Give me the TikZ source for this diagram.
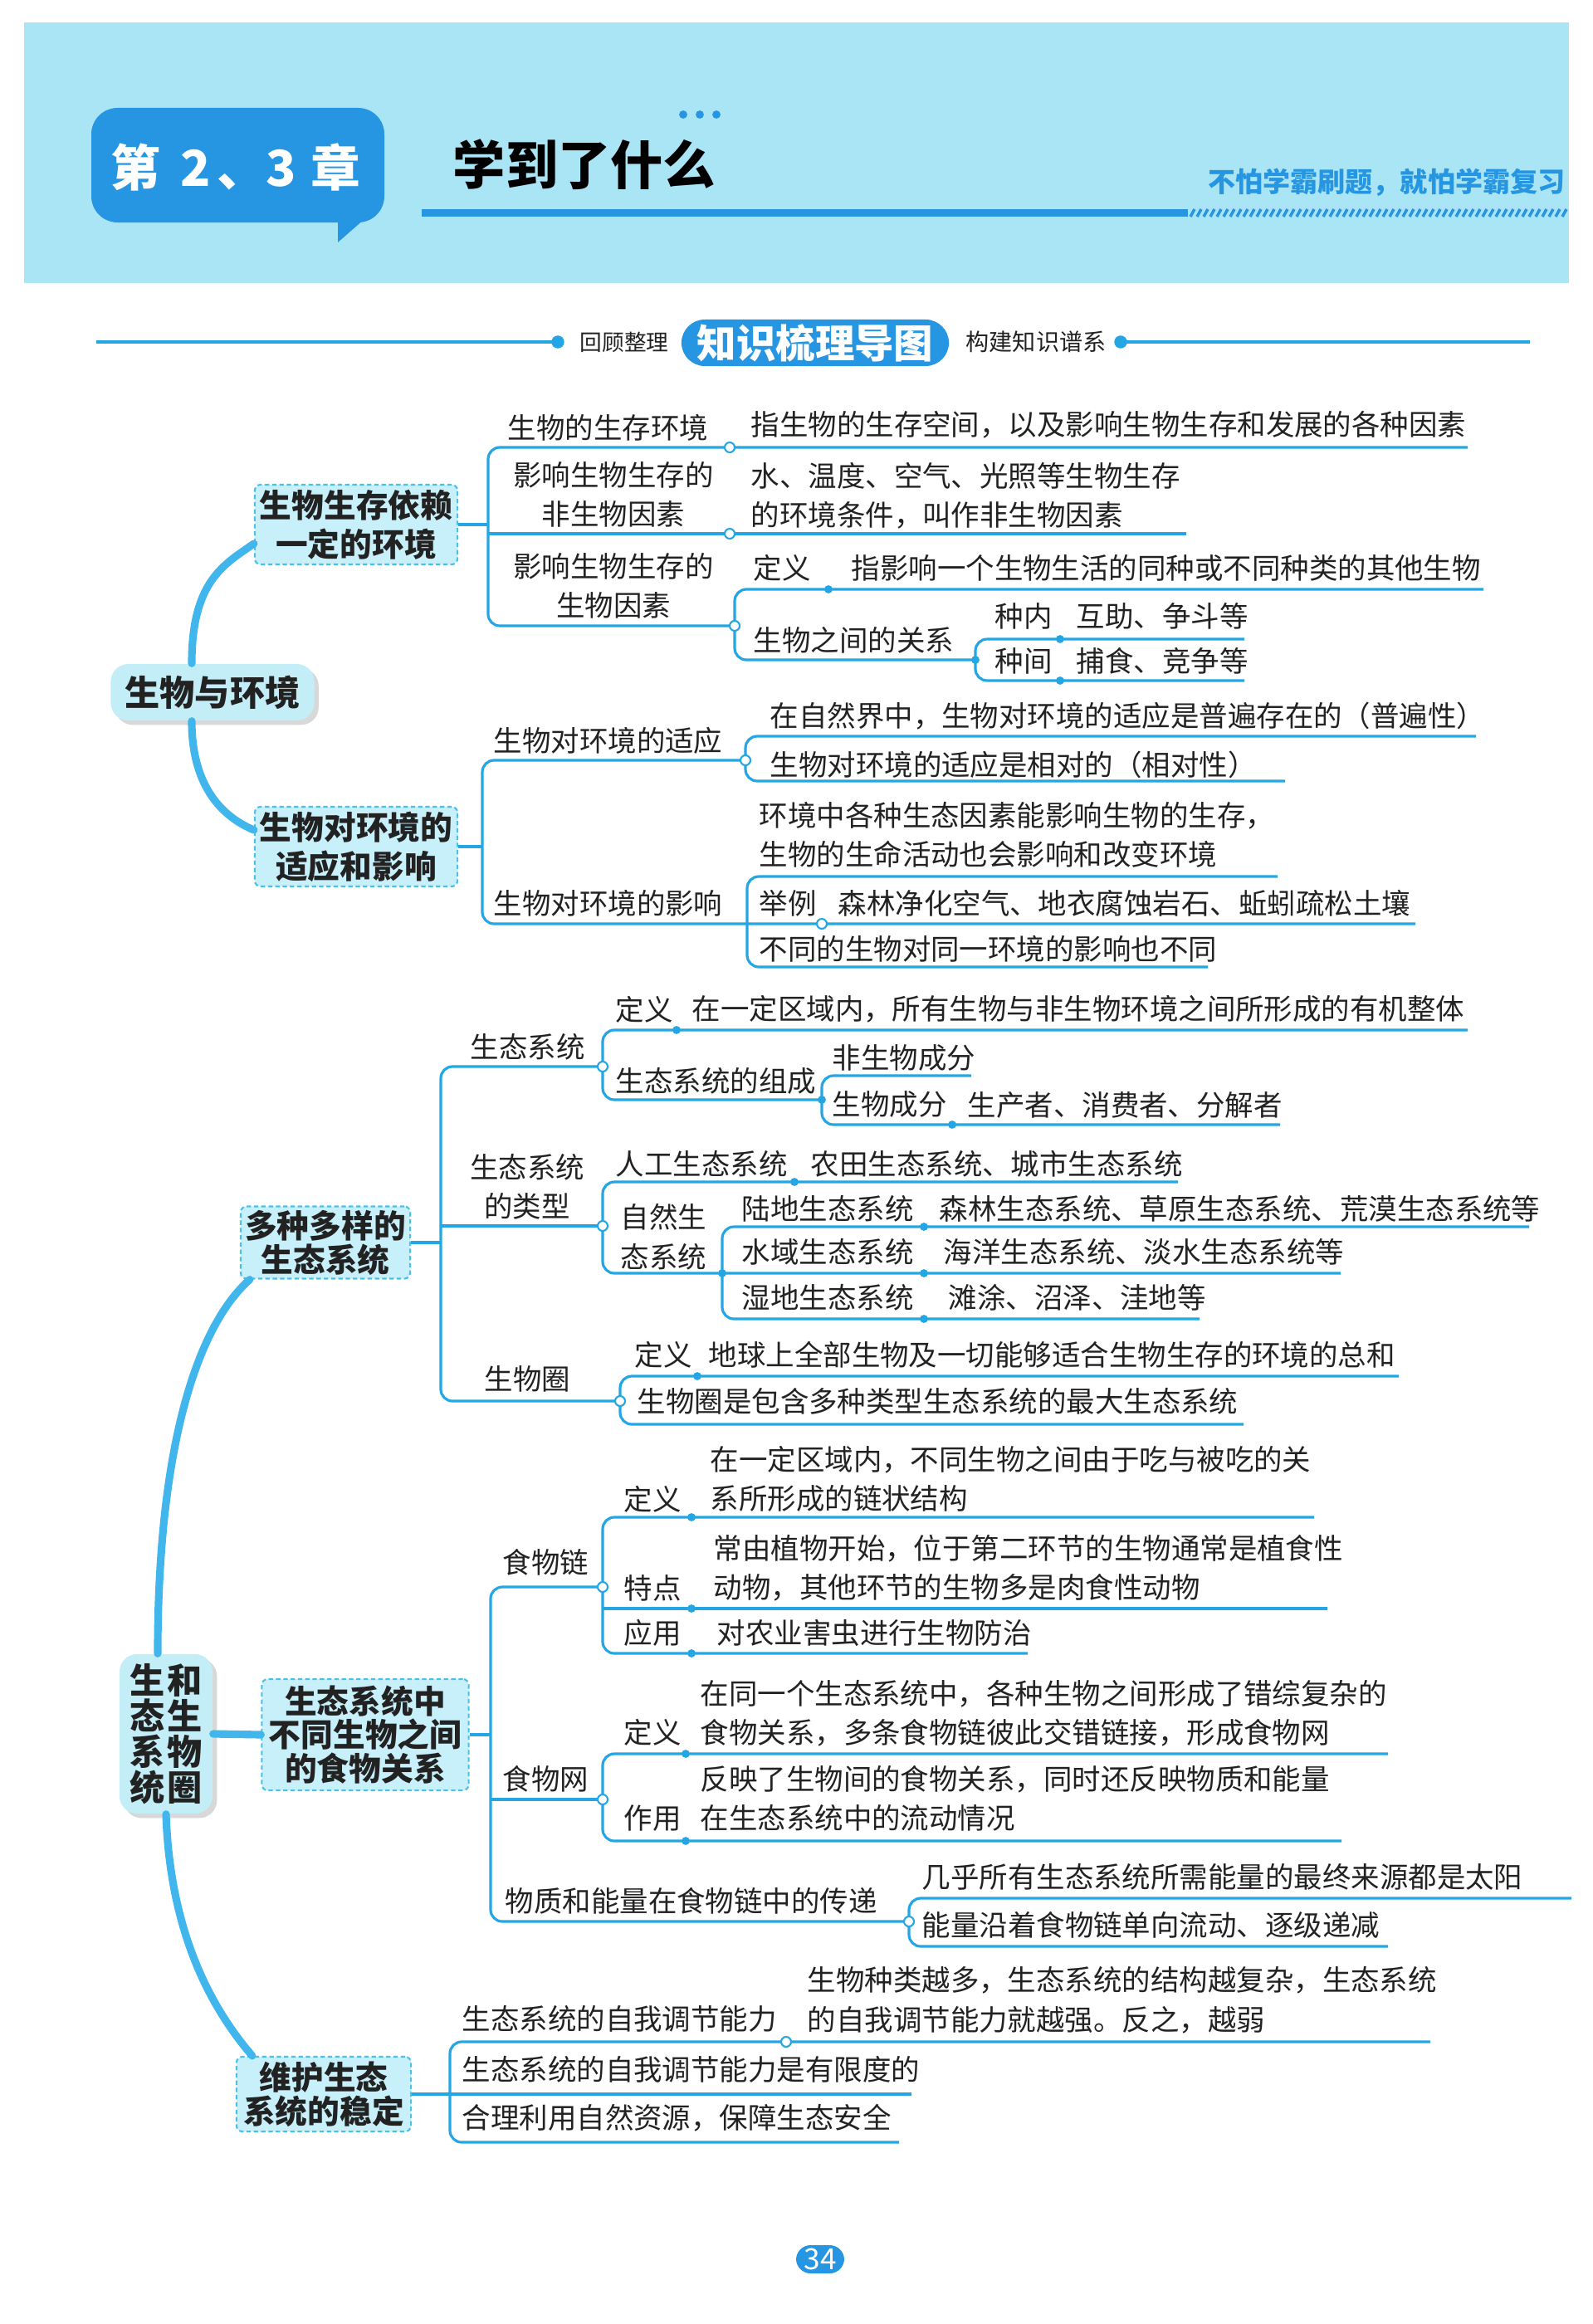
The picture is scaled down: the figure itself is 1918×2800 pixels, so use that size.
\documentclass[tikz,border=0pt]{standalone}
\usepackage{fontspec}
\setmainfont{Noto Sans CJK SC}
\usetikzlibrary{shadows}
\definecolor{band}{RGB}{170,229,245}
\definecolor{tabblue}{RGB}{38,150,226}
\definecolor{lineblue}{RGB}{36,166,228}
\definecolor{trunkblue}{RGB}{64,182,236}
\definecolor{boxfill}{RGB}{200,240,250}
\definecolor{boxedge}{RGB}{72,192,232}
\definecolor{rootfill}{RGB}{196,238,247}
\definecolor{ink}{RGB}{34,34,34}

\begin{document}
\begin{tikzpicture}[x=0.01cm, y=-0.01cm,
	tx/.style={font=\fontsize{9.8}{13.5}\selectfont, text=ink, inner sep=0pt, anchor=west, align=left},
	txc/.style={tx, anchor=center, align=center},
	ln/.style={draw=lineblue, line width=0.9pt},
	br/.style={ln, rounded corners=4pt},
	oc/.style={circle, draw=lineblue, fill=white, line width=0.6pt, inner sep=0pt, minimum size=3.4pt},
	dt/.style={circle, fill=lineblue, inner sep=0pt, minimum size=2.8pt},
	bx/.style={draw=boxedge, line width=0.6pt, dash pattern=on 1.5pt off 1pt, fill=boxfill, rounded corners=2pt, align=center, text=ink, font=\fontsize{11}{11.6}\selectfont\bfseries, inner sep=0pt},
	rt/.style={fill=rootfill, rounded corners=6pt, align=center, text=ink, font=\fontsize{12}{12}\selectfont\bfseries, inner sep=0pt, drop shadow={fill=black!30, shadow xshift=1.5pt, shadow yshift=-1.5pt}},
	trunk/.style={draw=trunkblue, line width=2.6pt, line cap=round}]
	\useasboundingbox (0,0) rectangle (1918,2800);
	\fill[white] (0,0) rectangle (1918,2800);
	\begin{scope}
		\fill[band] (29,27) rectangle (1890,341);
		\fill[tabblue, rounded corners=9pt] (110,130) rectangle (463,268);
		\fill[tabblue] (407,250) -- (455,250) -- (407,292) -- cycle;
		\node[font=\fontsize{17}{17}\selectfont\bfseries, text=white] (chap) at (284,201) {第\hspace{7pt}2\hspace{2pt}、3\hspace{5pt}章};
		\node[font=\fontsize{18}{18}\selectfont\bfseries, text=black, anchor=west, inner sep=0pt] (what) at (545,198) {学到了什么};
		\foreach \x [count=\i] in {823,843,863} {\node[circle, fill=tabblue, inner sep=0pt, minimum size=2.8pt] (dot\i) at (\x,138) {};}
		\node[font=\fontsize{9.4}{9.4}\selectfont\bfseries, text=tabblue, anchor=east, inner sep=0pt] (motto) at (1886,220) {不怕学霸刷题，就怕学霸复习};
		\fill[tabblue] (508,252) rectangle (1431,261);
		\foreach \x in {1434,1442,...,1882} {\draw[tabblue, line width=1pt] (\x,261) -- (\x+5,252);}
		\draw[lineblue, line width=1pt] (116,412) -- (672,412); \fill[lineblue] (672,412) circle (2.2pt);
		\draw[lineblue, line width=1pt] (1350,412) -- (1843,412); \fill[lineblue] (1350,412) circle (2.2pt);
		\node[font=\fontsize{7.6}{7.6}\selectfont, text=ink] (rev) at (752,412) {回顾整理};
		\node[fill=tabblue, rounded corners=8pt, minimum width=3.22cm, minimum height=0.56cm, font=\fontsize{13.5}{13.5}\selectfont\bfseries, text=white, inner sep=0pt] (mapt) at (982,413) {知识梳理导图};
		\node[font=\fontsize{8}{8}\selectfont, text=ink] (bld) at (1248,412) {构建知识谱系};
	\end{scope}
	\begin{scope}
		\node[rt, minimum width=2.45cm, minimum height=0.68cm] (env) at (256,834) {生物与环境};
		\node[bx, minimum width=2.44cm, minimum height=0.96cm, font=\fontsize{11}{13.4}\selectfont\bfseries] (live) at (429,632) {生物生存依赖\\一定的环境};
		\node[bx, minimum width=2.44cm, minimum height=0.96cm, font=\fontsize{11}{13.4}\selectfont\bfseries] (adapt) at (429,1020) {生物对环境的\\适应和影响};
		\draw[trunk] ([xshift=-0.25cm]env.north) .. controls (231,700) and (270,680) .. ([yshift=-0.23cm]live.west);
		\draw[trunk] ([xshift=-0.25cm]env.south) .. controls (231,950) and (270,985) .. ([yshift=0.2cm]adapt.west);
		\coordinate (j1) at (588,632); \coordinate (j2) at (581,1020);
		\draw[ln] (live.east) -- (j1); \draw[ln] (adapt.east) -- (j2);
		\draw[br] (1768,539) -- (588,539) -- (588,754) -- (885,754); \draw[ln] (588,643) -- (1429,643);
		\draw[br] (1787,710) -- (885,710) -- (885,795) -- (1175,795);
		\draw[br] (1499,770) -- (1175,770) -- (1175,820) -- (1499,820);
		\draw[br] (898,916) -- (581,916) -- (581,1113) -- (1705,1113);
		\draw[br] (1778,887) -- (898,887) -- (898,941) -- (1548,941);
		\draw[br] (1539,1056) -- (900,1056) -- (900,1165) -- (1455,1165);
		\node[tx] (a1) at (611,515) {生物的生存环境};
		\node[txc] (a2) at (739,596) {影响生物生存的\\非生物因素};
		\node[txc] (a3) at (739,706) {影响生物生存的\\生物因素};
		\node[tx] (a1t) at (904,512) {指生物的生存空间，以及影响生物生存和发展的各种因素};
		\node[tx] (a2t) at (904,597) {水、温度、空气、光照等生物生存\\的环境条件，叫作非生物因素};
		\node[tx] (a3d) at (907,684) {定义}; \node[tx] (a3dt) at (1025,684) {指影响一个生物生活的同种或不同种类的其他生物};
		\node[tx] (a3r) at (907,771) {生物之间的关系};
		\node[tx] (a3r1) at (1198,742) {种内}; \node[tx] (a3r1t) at (1296,742) {互助、争斗等};
		\node[tx] (a3r2) at (1198,796) {种间}; \node[tx] (a3r2t) at (1296,796) {捕食、竞争等};
		\node[tx] (b1) at (594,892) {生物对环境的适应};
		\node[tx] (b2) at (594,1088) {生物对环境的影响};
		\node[tx] (b1a) at (927,863) {在自然界中，生物对环境的适应是普遍存在的（普遍性）};
		\node[tx] (b1b) at (927,921) {生物对环境的适应是相对的（相对性）};
		\node[tx] (b2a) at (914,1006) {环境中各种生态因素能影响生物的生存，\\生物的生命活动也会影响和改变环境};
		\node[tx] (b2b) at (914,1088) {举例}; \node[tx] (b2bt) at (1009,1088) {森林净化空气、地衣腐蚀岩石、蚯蚓疏松土壤};
		\node[tx] (b2c) at (914,1143) {不同的生物对同一环境的影响也不同};
		\foreach \x/\y [count=\i] in {879/539, 879/643, 885/754, 898/916, 990/1113} {\node[oc] (o\i) at (\x,\y) {};}
		\foreach \x/\y [count=\i] in {998/710, 1175/795, 1277/770, 1277/820} {\node[dt] (d\i) at (\x,\y) {};}
	\end{scope}
	\begin{scope}
		\node[rt, minimum width=1.12cm, minimum height=1.92cm, font=\fontsize{12}{12.2}\selectfont\bfseries] (eco) at (200,2089) {生\hspace{1pt}和\\态\hspace{1pt}生\\系\hspace{1pt}物\\统\hspace{1pt}圈};
		\node[bx, minimum width=2.04cm, minimum height=0.87cm] (multi) at (392,1497) {多种多样的\\生态系统};
		\node[bx, minimum width=2.49cm, minimum height=1.34cm] (food) at (440,2090) {生态系统中\\不同生物之间\\的食物关系};
		\node[bx, minimum width=2.1cm, minimum height=0.9cm] (keep) at (390,2523) {维护生态\\系统的稳定};
		\draw[trunk] ([xshift=-0.1cm]eco.north) .. controls (190,1750) and (235,1600) .. ([xshift=0.12cm]multi.south west);
		\draw[trunk] (eco.south) .. controls (205,2330) and (255,2420) .. ([xshift=0.2cm]keep.north west);
		\draw[trunk] (eco.east) -- (food.west);
		\coordinate (j3) at (531,1497); \coordinate (j4) at (591,2090);
		\draw[ln] (multi.east) -- (j3); \draw[ln] (food.east) -- (j4); \draw[ln] (keep.east) -- (1098,2523);
		\draw[br] (726,1285) -- (531,1285) -- (531,1688) -- (747,1688); \draw[ln] (531,1477) -- (726,1477);
		\draw[br] (1768,1241) -- (726,1241) -- (726,1325) -- (990,1325);
		\draw[br] (1170,1296) -- (990,1296) -- (990,1355) -- (1542,1355);
		\draw[br] (1419,1424) -- (726,1424) -- (726,1534) -- (1615,1534);
		\draw[br] (1842,1478) -- (870,1478) -- (870,1589) -- (1445,1589);
		\draw[br] (1685,1658) -- (747,1658) -- (747,1716) -- (1498,1716);
		\node[tx] (c1) at (566,1261) {生态系统};
		\node[txc] (c2) at (635,1430) {生态系统\\的类型};
		\node[tx] (c3) at (583,1661) {生物圈};
		\node[tx] (c1d) at (741,1216) {定义}; \node[tx] (c1dt) at (833,1216) {在一定区域内，所有生物与非生物环境之间所形成的有机整体};
		\node[tx] (c1c) at (741,1302) {生态系统的组成};
		\node[tx] (c1c1) at (1002,1275) {非生物成分};
		\node[tx] (c1c2) at (1002,1331) {生物成分}; \node[tx] (c1c2t) at (1165,1331) {生产者、消费者、分解者};
		\node[tx] (c2a) at (741,1402) {人工生态系统}; \node[tx] (c2at) at (976,1402) {农田生态系统、城市生态系统};
		\node[tx] (c2b) at (747,1490) {自然生\\态系统};
		\node[tx] (c2b1) at (893,1456) {陆地生态系统}; \node[tx] (c2b1t) at (1131,1456) {森林生态系统、草原生态系统、荒漠生态系统等};
		\node[tx] (c2b2) at (893,1508) {水域生态系统}; \node[tx] (c2b2t) at (1136,1508) {海洋生态系统、淡水生态系统等};
		\node[tx] (c2b3) at (893,1563) {湿地生态系统}; \node[tx] (c2b3t) at (1142,1563) {滩涂、沼泽、洼地等};
		\node[tx] (c3d) at (764,1632) {定义}; \node[tx] (c3dt) at (853,1632) {地球上全部生物及一切能够适合生物生存的环境的总和};
		\node[tx] (c3b) at (767,1688) {生物圈是包含多种类型生态系统的最大生态系统};
		\draw[br] (726,1912) -- (591,1912) -- (591,2315) -- (1095,2315); \draw[ln] (591,2168) -- (726,2168);
		\draw[br] (1583,1828) -- (726,1828) -- (726,1992) -- (1238,1992); \draw[ln] (726,1938) -- (1599,1938);
		\draw[br] (1672,2113) -- (726,2113) -- (726,2218) -- (1616,2218);
		\draw[br] (1893,2287) -- (1095,2287) -- (1095,2345) -- (1672,2345);
		\node[tx] (e1) at (605,1882) {食物链};
		\node[tx] (e2) at (605,2143) {食物网};
		\node[tx] (e3) at (608,2290) {物质和能量在食物链中的传递};
		\node[tx] (e1d) at (751,1806) {定义}; \node[tx] (e1dt) at (855,1782) {在一定区域内，不同生物之间由于吃与被吃的关\\系所形成的链状结构};
		\node[tx] (e1f) at (751,1913) {特点}; \node[tx] (e1ft) at (859,1889) {常由植物开始，位于第二环节的生物通常是植食性\\动物，其他环节的生物多是肉食性动物};
		\node[tx] (e1u) at (751,1967) {应用}; \node[tx] (e1ut) at (863,1967) {对农业害虫进行生物防治};
		\node[tx] (e2d) at (751,2087) {定义}; \node[tx] (e2dt) at (843,2064) {在同一个生态系统中，各种生物之间形成了错综复杂的\\食物关系，多条食物链彼此交错链接，形成食物网};
		\node[tx] (e2u) at (751,2191) {作用}; \node[tx] (e2ut) at (843,2167) {反映了生物间的食物关系，同时还反映物质和能量\\在生态系统中的流动情况};
		\node[tx] (e3a) at (1110,2261) {几乎所有生态系统所需能量的最终来源都是太阳};
		\node[tx] (e3b) at (1110,2319) {能量沿着食物链单向流动、逐级递减};
		\draw[br] (1723,2460) -- (542,2460) -- (542,2581) -- (1083,2581);
		\node[tx] (f1) at (556,2432) {生态系统的自我调节能力}; \node[tx] (f1t) at (972,2410) {生物种类越多，生态系统的结构越复杂，生态系统\\的自我调节能力就越强。反之，越弱};
		\node[tx] (f2) at (556,2493) {生态系统的自我调节能力是有限度的};
		\node[tx] (f3) at (556,2552) {合理利用自然资源，保障生态安全};
		\foreach \x/\y [count=\i] in {726/1285, 726/1477, 747/1688, 726/1912, 726/2168, 1095/2315, 947/2460} {\node[oc] (p\i) at (\x,\y) {};}
		\foreach \x/\y [count=\i] in {815/1241, 990/1325, 1147/1355, 957/1424, 870/1534, 1113/1478, 1113/1534, 1113/1589, 840/1658, 833/1828, 833/1938, 833/1992, 826/2113, 826/2218} {\node[dt] (q\i) at (\x,\y) {};}
	\end{scope}
	\node[fill=tabblue, rounded corners=5pt, minimum width=0.58cm, minimum height=0.34cm, text=white, font=\fontsize{10}{10}\selectfont, inner sep=0pt] (pg) at (988,2722) {34};
\end{tikzpicture}
\end{document}
